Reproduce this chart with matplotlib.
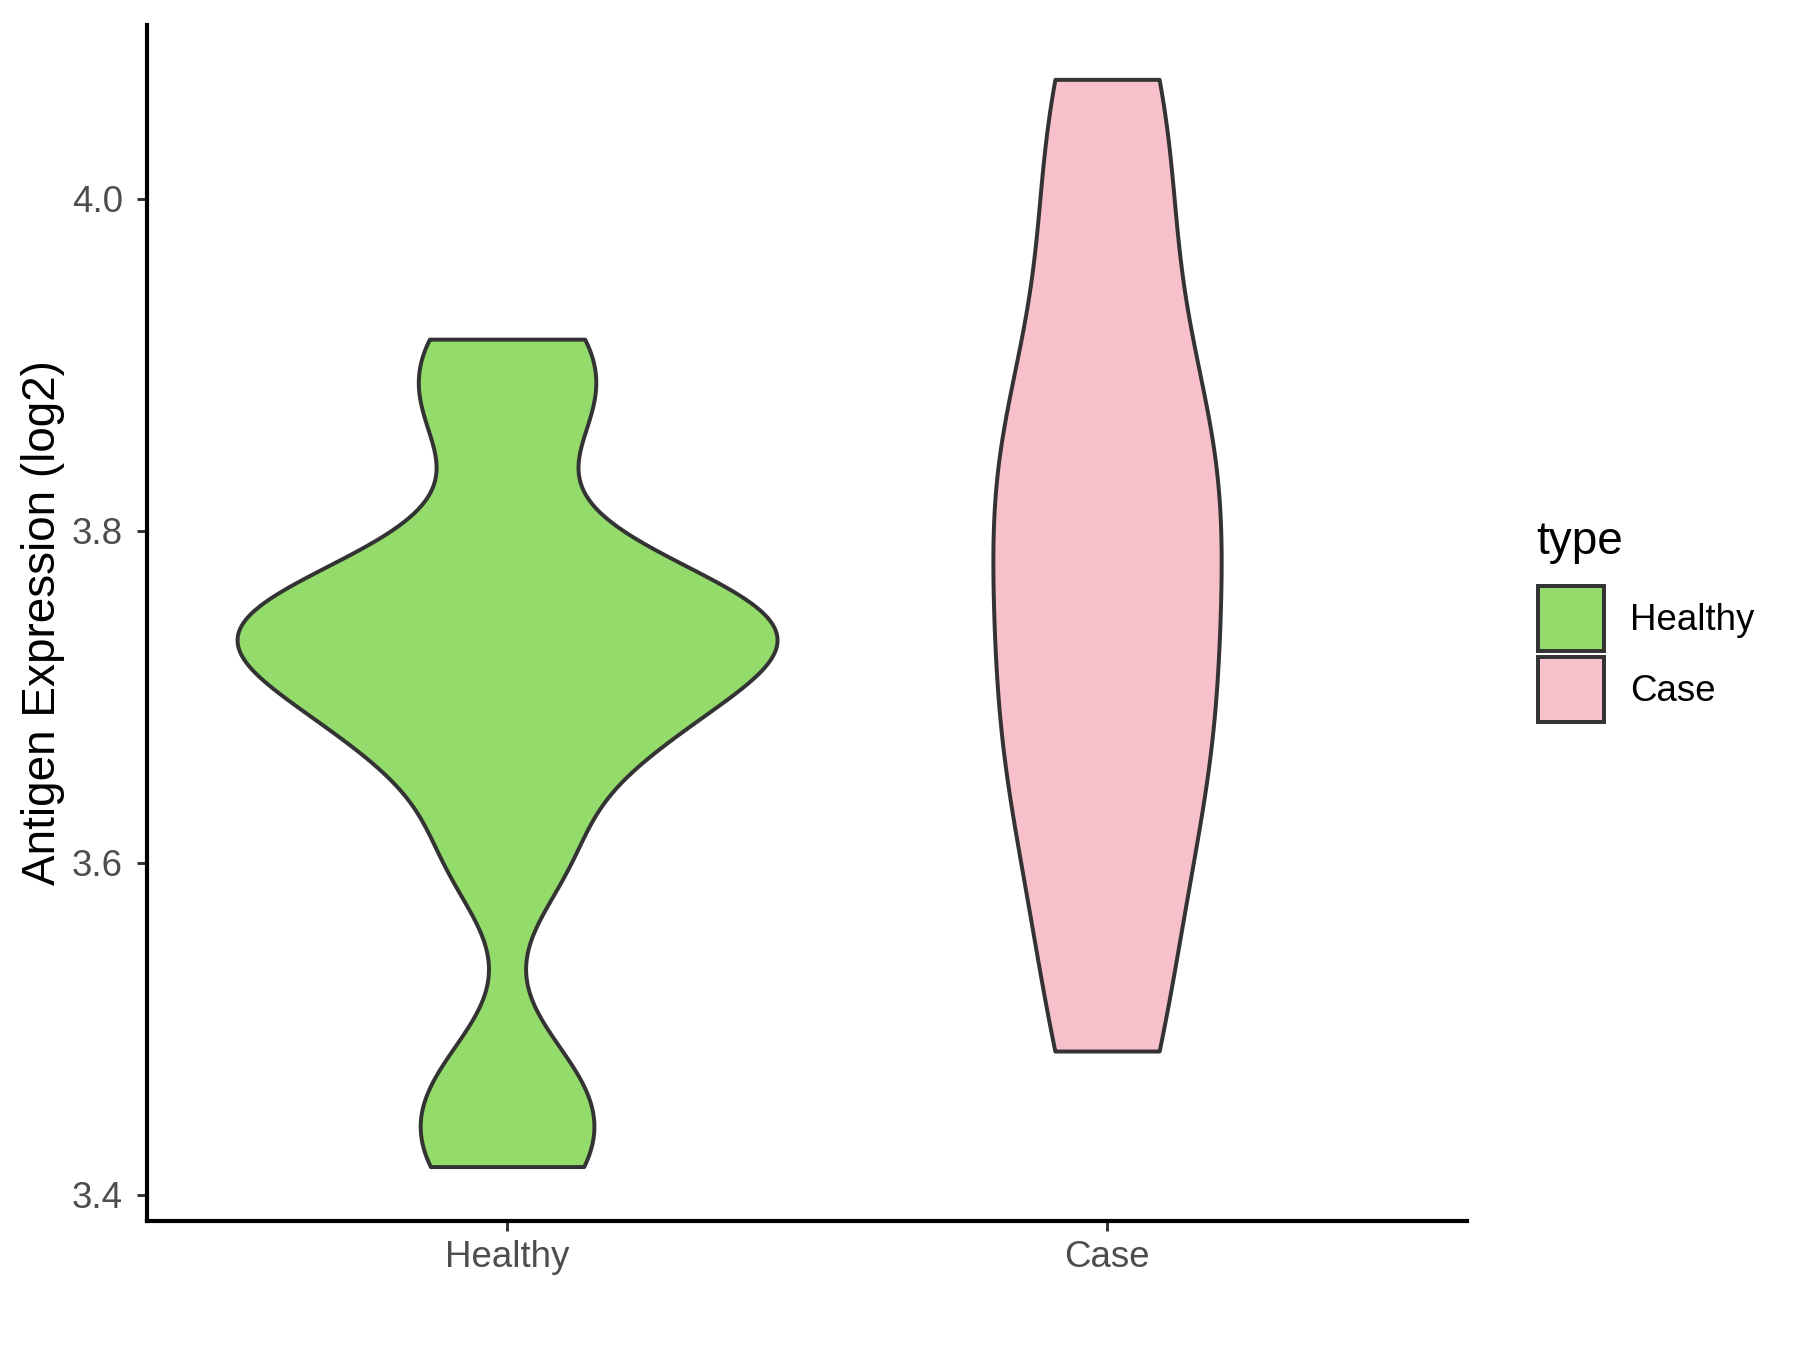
import numpy as np
import matplotlib
matplotlib.use('Agg')
import matplotlib.pyplot as plt
from matplotlib.patches import Patch

plt.rcParams['font.family'] = ['Liberation Sans', 'DejaVu Sans']

# values (estimated)
groups = ['Healthy', 'Case']
healthy = [3.4170, 3.4655, 3.6054, 3.6798, 3.6798, 3.7328, 3.7405, 3.7408, 3.7408, 3.7857, 3.8680, 3.9154]
case = [3.4866, 3.5860, 3.6670, 3.7030, 3.7762, 3.8518, 3.8518, 3.9804, 4.0719]
fills = ['#93DB6A', '#F7C0CB']
yticks = [3.4, 3.6, 3.8, 4.0]


def bw_nrd0(x):
    # same rule R's density() uses by default
    sd = np.std(x, ddof=1)
    q1, q3 = np.percentile(x, [25, 75])
    lo = min(sd, (q3 - q1) / 1.34)
    return 0.9 * lo * len(x) ** -0.2


def kde(x):
    x = np.asarray(x)
    grid = np.linspace(x.min(), x.max(), 512)
    h = bw_nrd0(x)
    z = (grid[:, None] - x[None, :]) / h
    d = np.exp(-0.5 * z * z).sum(1) / (len(x) * h * np.sqrt(2 * np.pi))
    return grid, d


dens = [kde(healthy), kde(case)]
dmax = max(d.max() for _, d in dens)

fig = plt.figure(figsize=(12, 9), dpi=150)
ax = fig.add_axes([0.0817, 0.0956, 0.7333, 0.8859])

for i, (grid, d) in enumerate(dens):
    w = 0.45 * d / dmax
    ax.fill_betweenx(grid, i + 1 - w, i + 1 + w, facecolor=fills[i],
                     edgecolor='#333333', linewidth=1.9, zorder=2)

allv = np.concatenate([healthy, case])
span = allv.max() - allv.min()
ax.set_ylim(allv.min() - 0.05 * span, allv.max() + 0.05 * span)
ax.set_xlim(0.4, 2.6)

ax.set_xticks([1, 2])
ax.set_xticklabels(groups)
ax.set_yticks(yticks)
ax.set_yticklabels(['%.1f' % t for t in yticks])
ax.tick_params(axis='both', length=5, width=1.4, color='#333333',
               labelsize=17.6, labelcolor='#4D4D4D')
ax.tick_params(axis='y', pad=6.5)
ax.tick_params(axis='x', pad=4)

for s in ['top', 'right']:
    ax.spines[s].set_visible(False)
for s in ['left', 'bottom']:
    ax.spines[s].set_color('black')
    ax.spines[s].set_linewidth(2.0)

ax.set_ylabel('Antigen Expression (log2)', fontsize=22, color='black')
ax.yaxis.set_label_coords(-0.062, 0.5)

# legend: title drawn separately so the gap to the keys matches ggplot
fig.text(0.8535, 0.5985, 'type', fontsize=22, color='black', ha='left', va='center')
handles = [Patch(facecolor=fills[i], edgecolor='#333333', linewidth=1.9, label=groups[i])
           for i in range(2)]
fig.legend(handles=handles, loc='center left', bbox_to_anchor=(0.8547, 0.5157),
           frameon=False, fontsize=17.6, handlelength=1.8,
           handleheight=2.37, handletextpad=0.7, labelspacing=0.15, borderpad=0,
           borderaxespad=0)

fig.savefig('out.png', dpi=150, facecolor='white')
